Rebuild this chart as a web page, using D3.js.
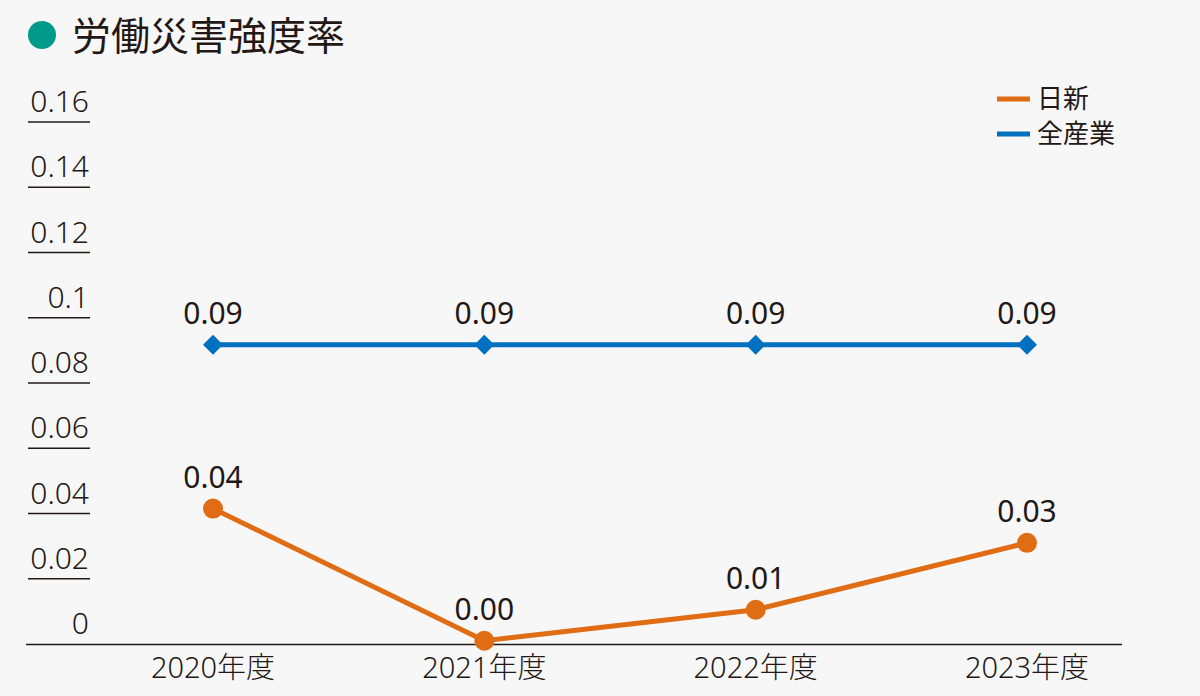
<!DOCTYPE html><html><head><meta charset="utf-8">
<script src="https://cdn.jsdelivr.net/npm/d3@7"></script>
<style>body{margin:0;background:#f7f7f7}text{font-family:"Noto Sans","Noto Sans CJK JP",sans-serif}</style></head><body>
<svg id="c" width="1200" height="696"></svg>
<script>
const categories=["2020年度","2021年度","2022年度","2023年度"];
const nisshin=[0.0415,0.001,0.0105,0.031];
const allIndustry=[0.0917,0.0917,0.0917,0.0917];
const yTicks=[0,0.02,0.04,0.06,0.08,0.1,0.12,0.14,0.16];
const tickLabels=["0","0.02","0.04","0.06","0.08","0.1","0.12","0.14","0.16"];
const svg=d3.select("#c");
svg.append("rect").attr("width",1200).attr("height",696).attr("fill","#f7f7f7");
svg.append("circle").attr("cx",42).attr("cy",35).attr("r",14).attr("fill","#00998a");
svg.append("text").attr("x",72).attr("y",50).attr("font-size",39).attr("fill","#231815").attr("font-family","Noto Sans CJK JP").text("労働災害強度率");
const x=d3.scalePoint().domain(categories).range([213,1027]);
const y=d3.scaleLinear().domain([0,0.16]).range([644,122]);
yTicks.forEach((t,i)=>{
  svg.append("text").attr("x",89).attr("y",y(t)-10).attr("text-anchor","end").attr("font-size",30).attr("font-weight",300).attr("fill","#231815").text(tickLabels[i]);
  if(t>0) svg.append("line").attr("x1",28).attr("x2",90).attr("y1",y(t)).attr("y2",y(t)).attr("stroke","#231815").attr("stroke-width",1.5);
});
svg.append("line").attr("x1",26).attr("x2",1122).attr("y1",644.5).attr("y2",644.5).attr("stroke","#231815").attr("stroke-width",1.5);
categories.forEach(c=>svg.append("text").attr("x",x(c)).attr("y",678).attr("text-anchor","middle").attr("font-size",29).attr("font-weight",300).attr("fill","#231815").text(c));
const line=d3.line().x((d,i)=>x(categories[i])).y(d=>y(d));
const blue="#0070c0",orange="#e06c14";
svg.append("path").attr("d",line(allIndustry)).attr("fill","none").attr("stroke",blue).attr("stroke-width",5);
allIndustry.forEach((v,i)=>{
  svg.append("path").attr("d","M0,-10L10,0L0,10L-10,0Z").attr("transform",`translate(${x(categories[i])},${y(v)})`).attr("fill",blue);
  svg.append("text").attr("x",x(categories[i])).attr("y",y(v)-21).attr("text-anchor","middle").attr("font-size",30).attr("fill","#231815").text(v.toFixed(2));
});
svg.append("path").attr("d",line(nisshin)).attr("fill","none").attr("stroke",orange).attr("stroke-width",5);
nisshin.forEach((v,i)=>{
  svg.append("circle").attr("cx",x(categories[i])).attr("cy",y(v)).attr("r",10).attr("fill",orange);
  svg.append("text").attr("x",x(categories[i])).attr("y",y(v)-21).attr("text-anchor","middle").attr("font-size",30).attr("fill","#231815").text(v.toFixed(2));
});
[["日新",orange,99],["全産業",blue,134]].forEach(([t,c,yy])=>{
  svg.append("line").attr("x1",997).attr("x2",1030).attr("y1",yy).attr("y2",yy).attr("stroke",c).attr("stroke-width",5);
  svg.append("text").attr("x",1037).attr("y",yy+9).attr("font-size",26).attr("font-family","Noto Sans CJK JP").attr("fill","#231815").text(t);
});
</script></body></html>
